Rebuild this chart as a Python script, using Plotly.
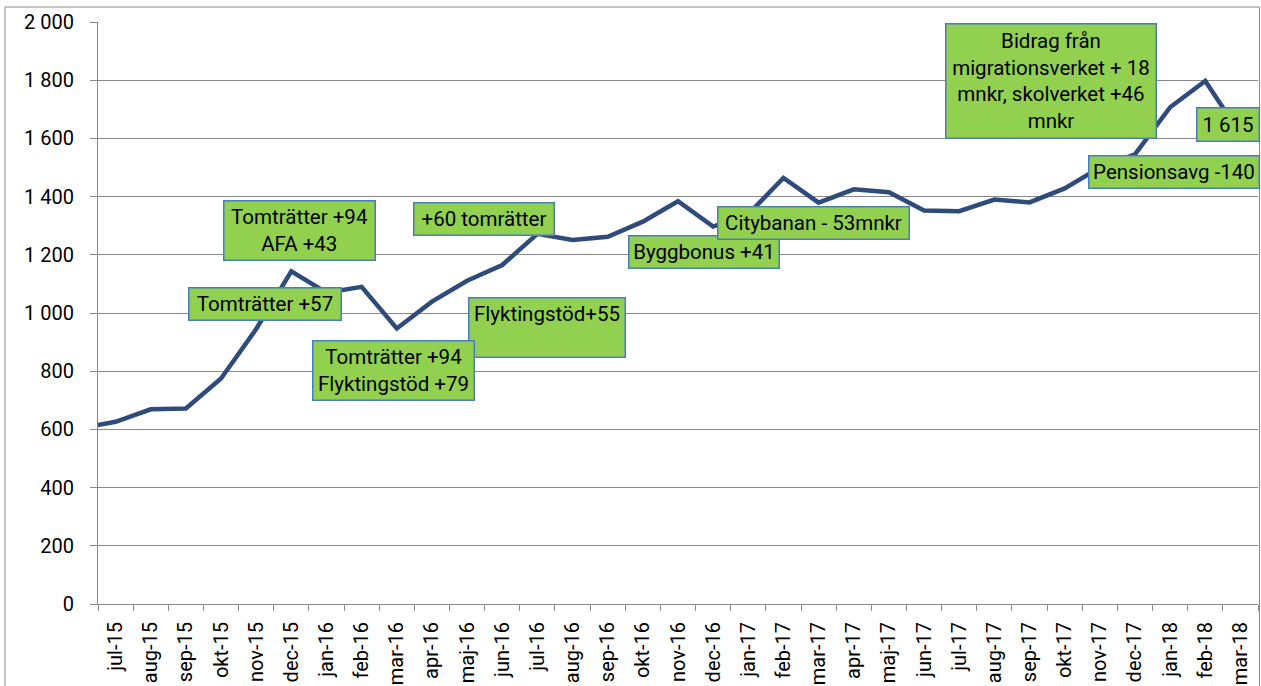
import plotly.graph_objects as go

# ---------------- data ----------------
# month labels shown on the axis
months = ["jul-15", "aug-15", "sep-15", "okt-15", "nov-15", "dec-15",
          "jan-16", "feb-16", "mar-16", "apr-16", "maj-16", "jun-16",
          "jul-16", "aug-16", "sep-16", "okt-16", "nov-16", "dec-16",
          "jan-17", "feb-17", "mar-17", "apr-17", "maj-17", "jun-17",
          "jul-17", "aug-17", "sep-17", "okt-17", "nov-17", "dec-17",
          "jan-18", "feb-18", "mar-18"]
# the line enters from the left edge: preceding month (not labelled)
prev_month = "jun-15"
prev_value = 604
values = [626, 669, 672, 775, 945, 1143,
          1070, 1090, 947, 1039, 1111, 1165,
          1272, 1251, 1262, 1314, 1384, 1297,
          1340, 1464, 1379, 1425, 1415, 1352,
          1350, 1390, 1380, 1428, 1500, 1545,
          1707, 1797, 1615]
y_ticks = [0, 200, 400, 600, 800, 1000, 1200, 1400, 1600, 1800, 2000]
y_tick_labels = ["0", "200", "400", "600", "800", "1 000", "1 200",
                 "1 400", "1 600", "1 800", "2 000"]
last_label = "1 615"
notes = [
    "Tomträtter +94<br>AFA +43",
    "Tomträtter +57",
    "Flyktingstöd+55<br>&nbsp;",
    "Tomträtter +94<br>Flyktingstöd +79",
    "+60 tomrätter",
    "Byggbonus +41",
    "Citybanan - 53mnkr",
    "Bidrag från<br>migrationsverket + 18<br>mnkr, skolverket +46<br>mnkr",
    "Pensionsavg -140",
]

# ---------------- layout geometry (pixels) ----------------
W, H = 1261, 686
PL, PR, PT, PB = 98, 1258, 22, 604


def px(x):
    return (x - PL) / (PR - PL)


def py(y):
    return (PB - y) / (PB - PT)


# box outer edges x0, x1, y0, y1, same order as notes
note_boxes = [
    (223, 376, 200, 261),
    (188, 342, 287, 321),
    (468, 626, 297, 358),
    (312, 475, 340, 401),
    (413, 555, 202, 236),
    (628, 780, 235, 269),
    (717, 910, 206, 240),
    (945, 1157, 23, 139),
    (1088, 1260, 155, 189),
]
label_box = (1196, 1260, 107, 142)

FONT = "Roboto, Carlito, Calibri, sans-serif"
FS = 20
FS_NOTE = 20.5
GREEN = "#92D050"
BORDER = "#4A7EBB"
LINE = "#2F4B7C"
GRID = "#898989"

x_all = [prev_month] + months
y_all = [prev_value] + values

fig = go.Figure()
fig.add_trace(go.Scatter(
    x=x_all, y=y_all, mode="lines",
    line=dict(color=LINE, width=4.5),
    hoverinfo="skip", showlegend=False,
))

annotations = []
BW = 1.5
for text, (x0, x1, y0, y1) in zip(notes + [last_label], note_boxes + [label_box]):
    annotations.append(dict(
        text=text, xref="paper", yref="paper",
        x=px((x0 + x1) / 2), y=py((y0 + y1) / 2),
        xanchor="center", yanchor="middle",
        width=x1 - x0 - 2 * BW, height=y1 - y0 - 2 * BW,
        align="center", valign="middle",
        showarrow=False, bgcolor=GREEN, bordercolor=BORDER,
        borderwidth=BW, borderpad=0,
        font=dict(family=FONT, size=FS_NOTE, color="#000000"),
    ))

fig.update_layout(
    width=W, height=H,
    margin=dict(l=PL, r=W - PR, t=PT, b=H - PB, pad=0),
    paper_bgcolor="white", plot_bgcolor="white",
    font=dict(family=FONT, size=FS, color="#000000"),
    showlegend=False,
    annotations=annotations,
    shapes=[dict(type="rect", xref="paper", yref="paper",
                 x0=px(5), x1=px(1259.5), y0=py(700), y1=py(7),
                 line=dict(color="#8C8C8C", width=1), layer="below")],
)
fig.update_xaxes(
    type="category", categoryorder="array", categoryarray=x_all,
    range=[0.5, len(x_all) - 0.5],
    tickson="boundaries", ticks="outside", ticklen=6, tickcolor=GRID,
    tickwidth=1, showgrid=False, showline=True, linecolor=GRID, linewidth=1,
    tickangle=-90, tickfont=dict(family=FONT, size=FS, color="#000000"),
    ticklabelstandoff=9, automargin=False, zeroline=False,
)
fig.update_yaxes(
    range=[0, 2000], tickmode="array", tickvals=y_ticks, ticktext=y_tick_labels,
    showgrid=True, gridcolor=GRID, gridwidth=1,
    ticks="outside", ticklen=7, tickcolor=GRID, tickwidth=1,
    showline=True, linecolor=GRID, linewidth=1,
    tickfont=dict(family=FONT, size=FS, color="#000000"),
    ticklabelstandoff=12, automargin=False, zeroline=False,
)

fig.write_html(
    "out.html",
    config={"displayModeBar": False},
    post_script="document.body.style.margin='0';document.body.style.overflow='hidden';",
)
